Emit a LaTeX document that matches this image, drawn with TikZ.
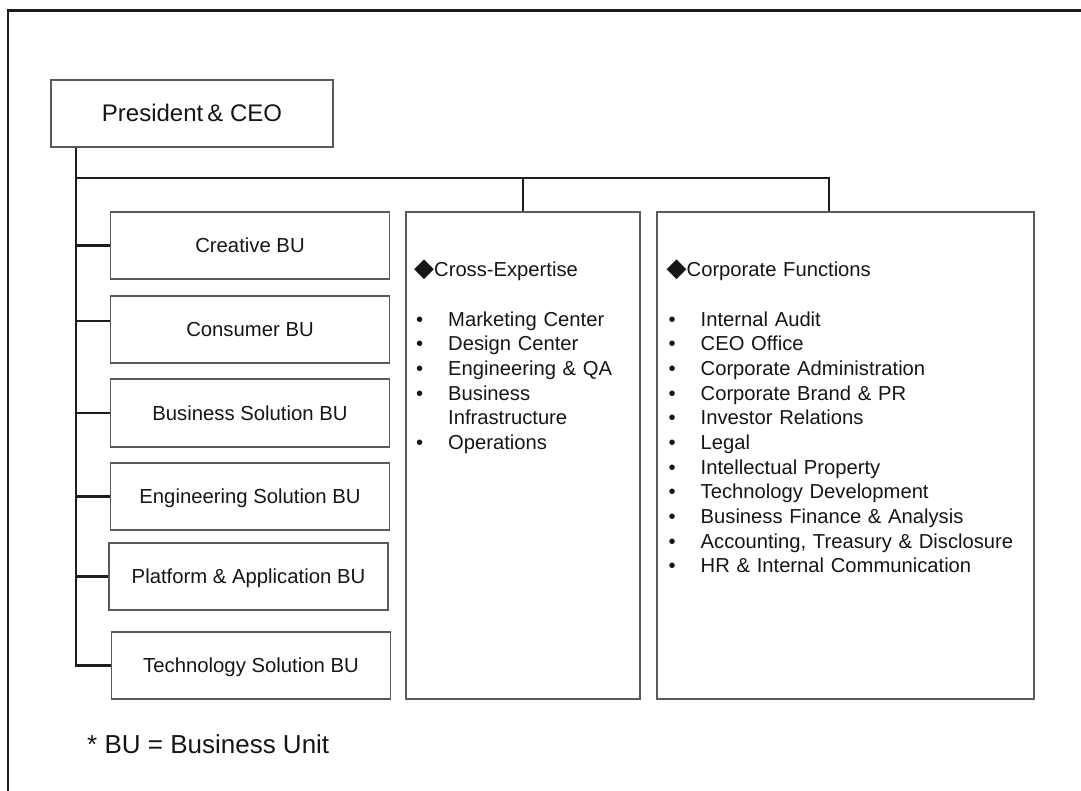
\documentclass[tikz,border=0pt]{standalone}
\usepackage{fontspec}
\setmainfont{Liberation Sans}
\newfontfamily\symfont{DejaVu Sans}
\definecolor{boxgray}{HTML}{5A5A5A}
\definecolor{linec}{HTML}{1E1E1E}
\definecolor{txt}{HTML}{161616}
\newcommand\dia{{\symfont\fontsize{26}{26}\selectfont ◆}}
\newcommand\itm[1]{\makebox[34pt][l]{\hspace{2pt}•}#1}
\newcommand\cnt[1]{\makebox[34pt][l]{}#1}
\begin{document}
\begin{tikzpicture}[x=1pt,y=-1pt,
  box/.style={draw=boxgray, line width=1.4pt, inner sep=0pt, text=txt},
  bubox/.style={box, minimum width=279pt, minimum height=67pt,
    font=\fontsize{20.3}{24}\selectfont, text height=14pt, text depth=0pt},
  conn/.style={draw=linec, line width=2.6pt},
  listtxt/.style={inner sep=0pt, text=txt, align=left,
    font=\fontsize{20.2}{24.65}\selectfont}
]
\useasboundingbox (0,0) rectangle (1081,791);
\fill[white] (0,0) rectangle (1081,791);
% outer frame
\draw[draw=linec, line width=2.2pt] (8,791) -- (8,10.5) -- (1081,10.5);

% nodes
\node[box, minimum width=282pt, minimum height=67pt,
  font=\fontsize{24}{28}\selectfont, text height=17pt, text depth=0pt]
  (ceo) at (192,113.5) {President\,\& CEO};

\node[bubox] (creative) at (250,245.5) {Creative BU};
\node[bubox] (consumer) at (250,329.5) {Consumer BU};
\node[bubox, minimum height=68pt] (bsol) at (250,413) {Business Solution BU};
\node[bubox] (esol) at (250,496.5) {Engineering Solution BU};
\node[bubox] (plat) at (248.5,576.5) {Platform \& Application BU};
\node[bubox] (tech) at (251,665.5) {Technology Solution BU};

\node[box, minimum width=234pt, minimum height=487pt] (cross) at (523,455.5) {};
\node[box, minimum width=377pt, minimum height=487pt] (corp) at (845.5,455.5) {};

\node[listtxt, text width=220pt, anchor=base west] (crosslist) at (414,277)
 {\dia Cross-Expertise\\
  \mbox{}\\
  \itm{Marketing Center}\\
  \itm{Design Center}\\
  \itm{Engineering \& QA}\\
  \itm{Business}\\
  \cnt{Infrastructure}\\
  \itm{Operations}};

\node[listtxt, text width=360pt, anchor=base west] (corplist) at (666.5,277)
 {\dia Corporate Functions\\
  \mbox{}\\
  \itm{Internal Audit}\\
  \itm{CEO Office}\\
  \itm{Corporate Administration}\\
  \itm{Corporate Brand \& PR}\\
  \itm{Investor Relations}\\
  \itm{Legal}\\
  \itm{Intellectual Property}\\
  \itm{Technology Development}\\
  \itm{Business Finance \& Analysis}\\
  \itm{Accounting, Treasury \& Disclosure}\\
  \itm{HR \& Internal Communication}};

\node[inner sep=0pt, anchor=base west, text=txt, font=\fontsize{26}{30}\selectfont]
  (note) at (87,753) {* BU = Business Unit};

% connector helper coordinates
\coordinate (tk) at (76,0);
\coordinate (hb) at (0,178);
\coordinate (cd) at (829,0);
\coordinate (cb) at (0,321);

% connectors
\draw[conn] (ceo.south -| tk) |- (tech.west);
\draw[conn] (hb -| tk) -| (corp.north -| cd);
\draw[conn] (cross.north |- hb) -- (cross.north);
\draw[conn] (tk |- creative.west) -- (creative.west);
\draw[conn] (tk |- cb) -- (consumer.west |- cb);
\draw[conn] (tk |- bsol.west) -- (bsol.west);
\draw[conn] (tk |- esol.west) -- (esol.west);
\draw[conn] (tk |- plat.west) -- (plat.west);
\end{tikzpicture}
\end{document}
